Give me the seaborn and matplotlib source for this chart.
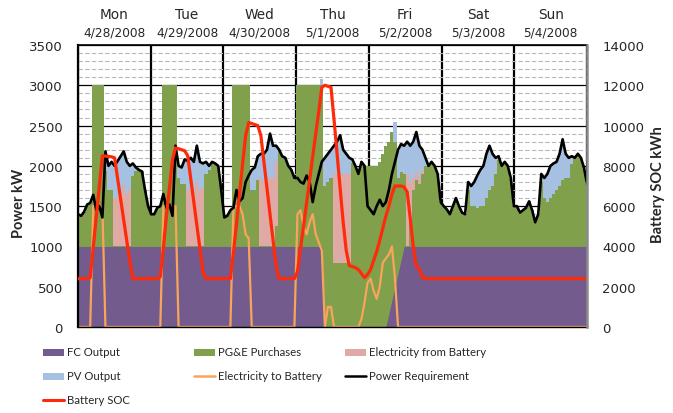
import numpy as np
import pandas as pd
import matplotlib
matplotlib.use('Agg')
import matplotlib.pyplot as plt
import matplotlib.transforms as mtransforms
from matplotlib.patches import Rectangle
from matplotlib.lines import Line2D
from matplotlib.ticker import MultipleLocator
import seaborn as sns

# DATA (hourly, one row of 24 values per day, Mon..Sun)
days = ['Mon', 'Tue', 'Wed', 'Thu', 'Fri', 'Sat', 'Sun']
dates = ['4/28/2008', '4/29/2008', '4/30/2008', '5/1/2008', '5/2/2008', '5/3/2008', '5/4/2008']

power_req = [
    1400, 1380, 1430, 1520, 1540, 1640, 1450, 1500, 1360, 2180, 2000, 2050, 2000, 2060, 2120, 2180, 2050, 2000, 2030, 1980, 1950, 1930, 1700, 1500,
    1400, 1400, 1480, 1500, 1650, 1480, 1520, 1380, 2250, 2000, 1980, 2080, 2060, 2100, 2050, 2250, 2050, 2030, 2050, 2000, 2050, 2030, 2000, 1700,
    1360, 1380, 1450, 1480, 1700, 1560, 1600, 1800, 1880, 1950, 1980, 2120, 2150, 2150, 2200, 2400, 2250, 2250, 2200, 2120, 2100, 2000, 1950, 1850,
    1850, 1800, 1780, 1880, 1800, 1550, 1750, 1900, 2050, 2100, 2150, 2200, 2250, 2300, 2380, 2200, 2150, 2100, 2080, 2000, 1900, 2050, 2000, 1500,
    1450, 1400, 1500, 1580, 1500, 1550, 1700, 1900, 2050, 2200, 2270, 2250, 2300, 2250, 2300, 2420, 2250, 2200, 2100, 2000, 2050, 2000, 1900, 1550,
    1500, 1460, 1400, 1500, 1600, 1500, 1420, 1400, 1800, 1750, 1800, 1880, 1950, 2000, 2150, 2250, 2150, 2100, 2120, 2000, 2050, 2000, 1850, 1500,
    1500, 1420, 1450, 1480, 1560, 1450, 1300, 1400, 1900, 1850, 1900, 2000, 2030, 2050, 2150, 2330, 2150, 2100, 2120, 2100, 2150, 2100, 1980, 1780,
]

fc_output = [
    1000] * 24 + [1000] * 24 + [1000] * 24 + [
    1000, 1000, 1000, 1000, 1000, 1000, 1000, 1000, 1000, 0, 0, 0, 0, 0, 0, 0, 0, 0, 0, 0, 0, 0, 0, 0,
    0, 0, 0, 0, 0, 0, 170, 330, 500, 670, 830, 1000, 1000, 1000, 1000, 1000, 1000, 1000, 1000, 1000, 1000, 1000, 1000, 1000,
] + [1000] * 24 + [1000] * 24

pge_purchases = [
    400, 380, 430, 520, 540, 2000, 2000, 2000, 2000, 930, 700, 700, 0, 0, 0, 0, 0, 0, 880, 930, 950, 930, 700, 500,
    400, 400, 480, 500, 2000, 2000, 2000, 2000, 2000, 850, 780, 780, 0, 0, 0, 0, 0, 0, 900, 950, 1050, 1030, 1000, 700,
    360, 380, 450, 2000, 2000, 2000, 2000, 2000, 2000, 700, 700, 820, 0, 0, 0, 0, 0, 250, 1200, 1120, 1100, 1000, 950, 850,
    2000, 2000, 2000, 2000, 2000, 2000, 2000, 2000, 2000, 1750, 1800, 1850, 800, 800, 800, 800, 800, 800, 2030, 2000, 1900, 2050, 2000, 2000,
    2000, 2000, 2000, 2050, 2150, 2250, 2130, 2090, 1800, 1180, 1090, 900, 0, 300, 700, 820, 770, 900, 1000, 1000, 1050, 1000, 900, 550,
    500, 460, 400, 500, 600, 500, 420, 400, 700, 500, 500, 480, 500, 500, 600, 700, 750, 900, 1070, 1000, 1050, 1000, 850, 500,
    500, 420, 450, 480, 560, 450, 300, 400, 800, 600, 550, 600, 650, 700, 750, 830, 850, 850, 1020, 1100, 1150, 1100, 980, 780,
]

from_battery = [
    0, 0, 0, 0, 0, 0, 0, 0, 0, 0, 0, 0, 600, 610, 670, 760, 650, 700, 0, 0, 0, 0, 0, 0,
    0, 0, 0, 0, 0, 0, 0, 0, 0, 0, 0, 0, 710, 700, 650, 800, 700, 730, 0, 0, 0, 0, 0, 0,
    0, 0, 0, 0, 0, 0, 0, 0, 0, 0, 0, 0, 850, 800, 820, 850, 850, 800, 0, 0, 0, 0, 0, 0,
    0, 0, 0, 0, 0, 0, 0, 0, 0, 0, 0, 0, 1100, 1100, 1100, 1100, 1100, 1100, 0, 0, 0, 0, 0, 0,
    0, 0, 0, 0, 0, 0, 0, 0, 0, 0, 0, 0, 900, 500, 150, 100, 80, 50, 0, 0, 0, 0, 0, 0,
] + [0] * 24 + [0] * 24

pv_output = [
    0, 0, 0, 0, 0, 0, 0, 0, 0, 250, 300, 350, 400, 450, 450, 420, 400, 300, 150, 50, 0, 0, 0, 0,
    0, 0, 0, 0, 0, 0, 0, 0, 0, 150, 200, 300, 350, 400, 400, 450, 350, 300, 150, 50, 0, 0, 0, 0,
    0, 0, 0, 0, 0, 0, 0, 0, 0, 250, 280, 300, 300, 350, 380, 550, 400, 200, 0, 0, 0, 0, 0, 0,
    0, 0, 0, 0, 0, 0, 0, 0, 80, 350, 350, 350, 350, 400, 480, 300, 250, 200, 50, 0, 0, 0, 0, 0,
    0, 0, 0, 0, 0, 0, 0, 0, 250, 350, 350, 350, 400, 450, 450, 500, 400, 250, 100, 0, 0, 0, 0, 0,
    0, 0, 0, 0, 0, 0, 0, 0, 100, 250, 300, 400, 450, 500, 550, 550, 400, 200, 50, 0, 0, 0, 0, 0,
    0, 0, 0, 0, 0, 0, 0, 0, 100, 250, 350, 400, 380, 350, 400, 500, 300, 250, 100, 0, 0, 0, 0, 0,
]

to_battery = [
    0, 0, 0, 0, 0, 1500, 1500, 1500, 1500, 0, 0, 0, 0, 0, 0, 0, 0, 0, 0, 0, 0, 0, 0, 0,
    0, 0, 0, 0, 1500, 1500, 1500, 1500, 1500, 0, 0, 0, 0, 0, 0, 0, 0, 0, 0, 0, 0, 0, 0, 0,
    0, 0, 0, 1500, 1500, 1500, 1400, 1150, 1100, 0, 0, 0, 0, 0, 0, 0, 0, 0, 0, 0, 0, 0, 0, 0,
    1400, 1450, 1250, 1150, 1300, 1400, 1150, 1050, 950, 0, 250, 250, 0, 0, 0, 0, 0, 0, 0, 0, 0, 100, 300, 550,
    600, 450, 350, 500, 800, 850, 900, 1000, 600, 0, 0, 0, 0, 0, 0, 0, 0, 0, 0, 0, 0, 0, 0, 0,
] + [0] * 24 + [0] * 24

battery_soc = [
    2400, 2400, 2400, 2400, 2450, 3950, 5500, 7000, 8500, 8480, 8470, 8450, 8400, 7370, 6340, 5310, 4280, 3250, 2400, 2400, 2400, 2400, 2400, 2400,
    2400, 2400, 2400, 2500, 3900, 5500, 6900, 8300, 8890, 8850, 8800, 8750, 8500, 7350, 6200, 5050, 3900, 2750, 2400, 2400, 2400, 2400, 2400, 2400,
    2400, 2400, 2400, 3700, 5100, 6600, 8100, 9500, 10150, 10100, 10050, 10000, 9500, 8200, 6900, 5600, 4300, 3000, 2400, 2400, 2400, 2400, 2400, 2400,
    2750, 3900, 5000, 6150, 7300, 8450, 9600, 10700, 11900, 12000, 11950, 11900, 10300, 8600, 6900, 5200, 3800, 3050, 3000, 2950, 2850, 2650, 2450, 2600,
    2850, 3300, 3750, 4300, 4900, 5500, 6000, 6600, 7000, 7000, 7000, 6950, 6700, 5400, 4000, 3000, 2900, 2450, 2400, 2400, 2400, 2400, 2400, 2400,
] + [2400] * 24 + [2400] * 24

# colours
COL_FC = '#735b8d'
COL_PGE = '#80a04b'
COL_FROM = '#dfa9a6'
COL_PV = '#a5c0e0'
COL_TO = '#f8a55b'
COL_LOAD = 'black'
COL_SOC = '#ff2a0a'

df = pd.DataFrame({
    't': np.linspace(0, 7, len(power_req)),
    'load': power_req,
    'fc': fc_output,
    'pge': pge_purchases,
    'from_batt': from_battery,
    'pv': pv_output,
    'to_batt': to_battery,
    'soc': battery_soc,
})
# cumulative tops of the stacked supply layers
df['top_pge'] = df['fc'] + df['pge']
df['top_batt'] = df['top_pge'] + df['from_batt']
df['top_pv'] = df['top_batt'] + df['pv']

sns.set_style('white')
plt.rcParams['font.family'] = ['DejaVu Sans']

W, H = 673, 414
fig = plt.figure(figsize=(W / 100, H / 100), dpi=100)
ax = fig.add_axes([78 / W, 1 - 328 / H, 509 / W, 282 / H])

# stacked supply areas, hourly blocks (painted from the top layer down)
ax.fill_between(df['t'], 0, df['top_pv'], step='mid', color=COL_PV, lw=0, zorder=1)
ax.fill_between(df['t'], 0, df['top_batt'], step='mid', color=COL_FROM, lw=0, zorder=1)
ax.fill_between(df['t'], 0, df['top_pge'], step='mid', color=COL_PGE, lw=0, zorder=1)
ax.fill_between(df['t'], 0, df['fc'], color=COL_FC, lw=0, zorder=1)

sns.lineplot(data=df, x='t', y='to_batt', ax=ax, color=COL_TO, lw=1.6, legend=False, zorder=2)
sns.lineplot(data=df, x='t', y='load', ax=ax, color=COL_LOAD, lw=1.9, legend=False, zorder=3)

ax.set_xlim(0, 7)
ax.set_ylim(0, 3500)
ax.set_xlabel('')
ax.set_ylabel('')
ax.yaxis.set_major_locator(MultipleLocator(500))
ax.yaxis.set_minor_locator(MultipleLocator(100))
ax.set_xticks(range(8))
ax.set_xticklabels([])
ax.tick_params(axis='x', length=0)
ax.tick_params(axis='y', which='both', length=0, labelsize=9.5, pad=11)
ax.set_axisbelow(True)
ax.grid(axis='y', which='major', color='black', lw=0.9)
ax.grid(axis='y', which='minor', color='#b8b8b8', lw=0.8, ls=(0, (4, 2)))
ax.grid(axis='x', which='major', color='black', lw=1.6)
ax.spines['left'].set_color('black')
ax.spines['left'].set_linewidth(1.6)
ax.spines['bottom'].set_color('black')
ax.spines['bottom'].set_linewidth(1.0)
ax.spines['top'].set_color('black')
ax.spines['top'].set_linewidth(1.2)
ax.spines['right'].set_visible(False)

# battery state of charge on the right axis
ax2 = ax.twinx()
sns.lineplot(data=df, x='t', y='soc', ax=ax2, color=COL_SOC, lw=2.3, legend=False)
ax2.set_ylim(0, 14000)
ax2.set_xlim(0, 7)
ax2.set_ylabel('')
ax2.yaxis.set_major_locator(MultipleLocator(2000))
ax2.tick_params(axis='y', length=0, labelsize=9.5, pad=11)
ax2.grid(False)
for s in ['left', 'top', 'bottom']:
    ax2.spines[s].set_visible(False)
ax2.spines['right'].set_color('#8c8c8c')
ax2.spines['right'].set_linewidth(1.8)

# day labels above the plot
trans = mtransforms.blended_transform_factory(ax.transData, ax.transAxes)
for i, (d, dt) in enumerate(zip(days, dates)):
    ax.text(i + 0.5, 1 + 31 / 282, d, transform=trans, ha='center', va='center', fontsize=9.8)
    ax.text(i + 0.5, 1 + 13 / 282, dt, transform=trans, ha='center', va='center', fontsize=8.7)

# axis titles
fig.text(19 / W, 1 - 203 / H, 'Power kW', rotation=90, ha='center', va='center',
         fontsize=10.5, fontweight='bold', family=['Lato', 'DejaVu Sans'])
fig.text(658 / W, 1 - 185 / H, 'Battery SOC kWh', rotation=90, ha='center', va='center',
         fontsize=10.5, fontweight='bold', family=['Lato', 'DejaVu Sans'])

# legend, drawn by hand in three columns
entries = [
    ('FC Output', 'patch', COL_FC, 0, 0),
    ('PG&E Purchases', 'patch', COL_PGE, 1, 0),
    ('Electricity from Battery', 'patch', COL_FROM, 2, 0),
    ('PV Output', 'patch', COL_PV, 0, 1),
    ('Electricity to Battery', 'line', COL_TO, 1, 1),
    ('Power Requirement', 'line', COL_LOAD, 2, 1),
    ('Battery SOC', 'line', COL_SOC, 0, 2),
]
col_x = [43, 194, 345]
row_y = [353, 377, 401]
for label, kind, color, c, r in entries:
    x0 = col_x[c]
    y0 = row_y[r]
    if kind == 'patch':
        fig.add_artist(Rectangle((x0 / W, 1 - (y0 + 3.5) / H), 21 / W, 7 / H,
                                 transform=fig.transFigure, facecolor=color, edgecolor='none'))
    else:
        lw = 2.2 if color == COL_SOC else 1.8
        fig.add_artist(Line2D([x0 / W, (x0 + 21) / W], [1 - y0 / H, 1 - y0 / H],
                              transform=fig.transFigure, color=color, lw=lw))
    fig.text((x0 + 24) / W, 1 - y0 / H, label, ha='left', va='center', fontsize=8.2,
             family=['Lato', 'DejaVu Sans'])

fig.savefig('out.png', dpi=100)
